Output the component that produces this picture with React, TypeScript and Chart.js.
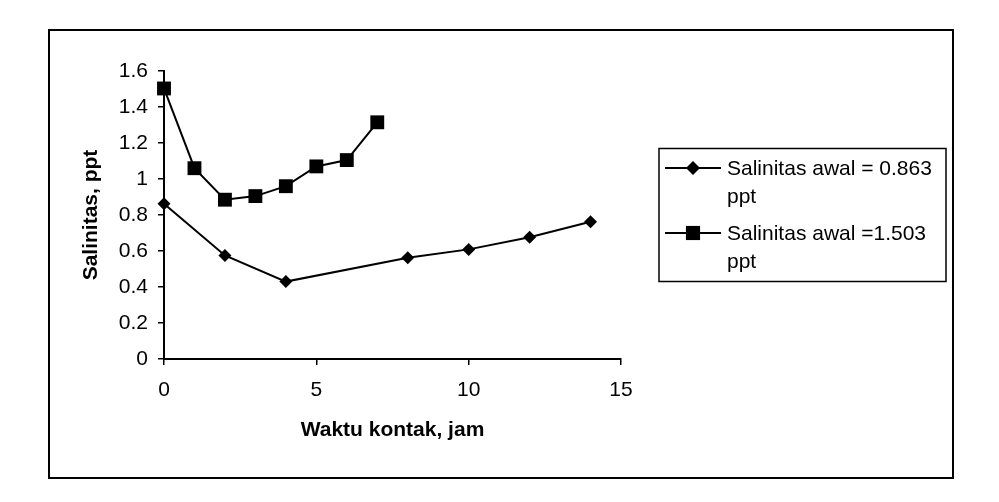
import React, { useEffect, useRef } from "react";
import { Chart, registerables } from "chart.js";

Chart.register(...registerables);

// ---- Data ----
const timeA = [0, 2, 4, 8, 10, 12, 14];
const salinityA = [0.863, 0.575, 0.43, 0.563, 0.609, 0.676, 0.763];
const timeB = [0, 1, 2, 3, 4, 5, 6, 7];
const salinityB = [1.503, 1.06, 0.885, 0.905, 0.96, 1.07, 1.105, 1.315];
const seriesLabels = ["Salinitas awal = 0.863 ppt", "Salinitas awal =1.503 ppt"];
const legendLines = [
  ["Salinitas awal = 0.863", "ppt"],
  ["Salinitas awal =1.503", "ppt"],
];
const xTitle = "Waktu kontak, jam";
const yTitle = "Salinitas, ppt";
const xMin = 0, xMax = 15, xStep = 5;
const yMin = 0, yMax = 1.6, yStep = 0.2;

const FONT = "'Liberation Sans', Arial, sans-serif";

function drawMarker(ctx: CanvasRenderingContext2D, style: string, x: number, y: number, r: number) {
  ctx.beginPath();
  if (style === "rectRot") {
    ctx.moveTo(x, y - r);
    ctx.lineTo(x + r, y);
    ctx.lineTo(x, y + r);
    ctx.lineTo(x - r, y);
    ctx.closePath();
  } else {
    const s = r * Math.SQRT1_2;
    ctx.rect(x - s, y - s, 2 * s, 2 * s);
  }
  ctx.fill();
}

const framePlugin = {
  id: "frameAndLegend",
  beforeDraw(chart: any) {
    const ctx = chart.ctx as CanvasRenderingContext2D;
    ctx.save();
    ctx.fillStyle = "#ffffff";
    ctx.fillRect(0, 0, chart.width, chart.height);
    ctx.restore();
  },
  afterDraw(chart: any) {
    const ctx = chart.ctx as CanvasRenderingContext2D;
    ctx.save();
    // outer frame
    ctx.strokeStyle = "#000";
    ctx.lineWidth = 2;
    ctx.strokeRect(49, 30, 904, 448);
    // legend box
    ctx.lineWidth = 1.5;
    ctx.strokeRect(659, 148.5, 287, 133);
    const styles = ["rectRot", "rect"];
    const radii = [7, 10];
    ctx.font = `21px ${FONT}`;
    ctx.textAlign = "left";
    ctx.textBaseline = "alphabetic";
    chart.data.datasets.forEach((ds: any, i: number) => {
      const ly = 168 + i * 65;
      ctx.strokeStyle = "#000";
      ctx.lineWidth = 2;
      ctx.beginPath();
      ctx.moveTo(665, ly);
      ctx.lineTo(721, ly);
      ctx.stroke();
      ctx.fillStyle = "#000";
      drawMarker(ctx, styles[i], 693, ly, radii[i]);
      const lines = legendLines[i];
      lines.forEach((t, j) => {
        ctx.fillText(t, 727, ly + 6.5 + j * 28.5);
      });
    });
    ctx.restore();
  },
};

export default function App() {
  const ref = useRef<HTMLCanvasElement | null>(null);
  useEffect(() => {
    if (!ref.current) return;
    const chart = new Chart(ref.current, {
      type: "line",
      data: {
        datasets: [
          {
            label: seriesLabels[0],
            data: timeA.map((t, i) => ({ x: t, y: salinityA[i] })),
            borderColor: "#000",
            backgroundColor: "#000",
            borderWidth: 2,
            pointStyle: "rectRot",
            pointRadius: 6.5,
            pointBorderWidth: 0,
            pointBackgroundColor: "#000",
            tension: 0,
            clip: false as any,
          },
          {
            label: seriesLabels[1],
            data: timeB.map((t, i) => ({ x: t, y: salinityB[i] })),
            borderColor: "#000",
            backgroundColor: "#000",
            borderWidth: 2,
            pointStyle: "rect",
            pointRadius: 9.8,
            pointBorderWidth: 0,
            pointBackgroundColor: "#000",
            tension: 0,
            clip: false as any,
          },
        ],
      },
      options: {
        responsive: false,
        animation: false,
        devicePixelRatio: 1,
        layout: { padding: { left: 79, top: 71, right: 378, bottom: 59 } },
        plugins: {
          legend: { display: false },
          tooltip: { enabled: false },
        },
        scales: {
          x: {
            type: "linear",
            min: xMin,
            max: xMax,
            ticks: {
              stepSize: xStep,
              color: "#000",
              font: { family: FONT, size: 21 },
              padding: 12.5,
              maxRotation: 0,
            },
            grid: {
              display: true,
              drawOnChartArea: false,
              drawTicks: true,
              tickLength: 6,
              color: "#000",
              lineWidth: 1.5,
            },
            border: { display: true, color: "#000", width: 2 },
            title: {
              display: true,
              text: xTitle,
              color: "#000",
              font: { family: FONT, size: 21, weight: "bold" },
              padding: { top: 0, bottom: 0 },
            },
            afterFit: (s: any) => {
              s.height = 84;
            },
          },
          y: {
            type: "linear",
            min: yMin,
            max: yMax,
            ticks: {
              stepSize: yStep,
              color: "#000",
              font: { family: FONT, size: 21 },
              padding: 10,
              callback: (v: any) => String(Number(Number(v).toFixed(1))),
            },
            grid: {
              display: true,
              drawOnChartArea: false,
              drawTicks: true,
              tickLength: 6,
              color: "#000",
              lineWidth: 1.5,
            },
            border: { display: true, color: "#000", width: 2 },
            title: {
              display: true,
              text: yTitle,
              color: "#000",
              font: { family: FONT, size: 21, weight: "bold" },
              padding: { top: 0, bottom: 0 },
            },
            afterFit: (s: any) => {
              s.width = 85;
            },
          },
        },
      },
      plugins: [framePlugin],
    });
    return () => chart.destroy();
  }, []);
  return (
    <div style={{ position: "fixed", left: 0, top: 0, width: 999, height: 502, background: "#fff" }}>
      <canvas ref={ref} width={999} height={502} style={{ display: "block", width: 999, height: 502 }} />
    </div>
  );
}
